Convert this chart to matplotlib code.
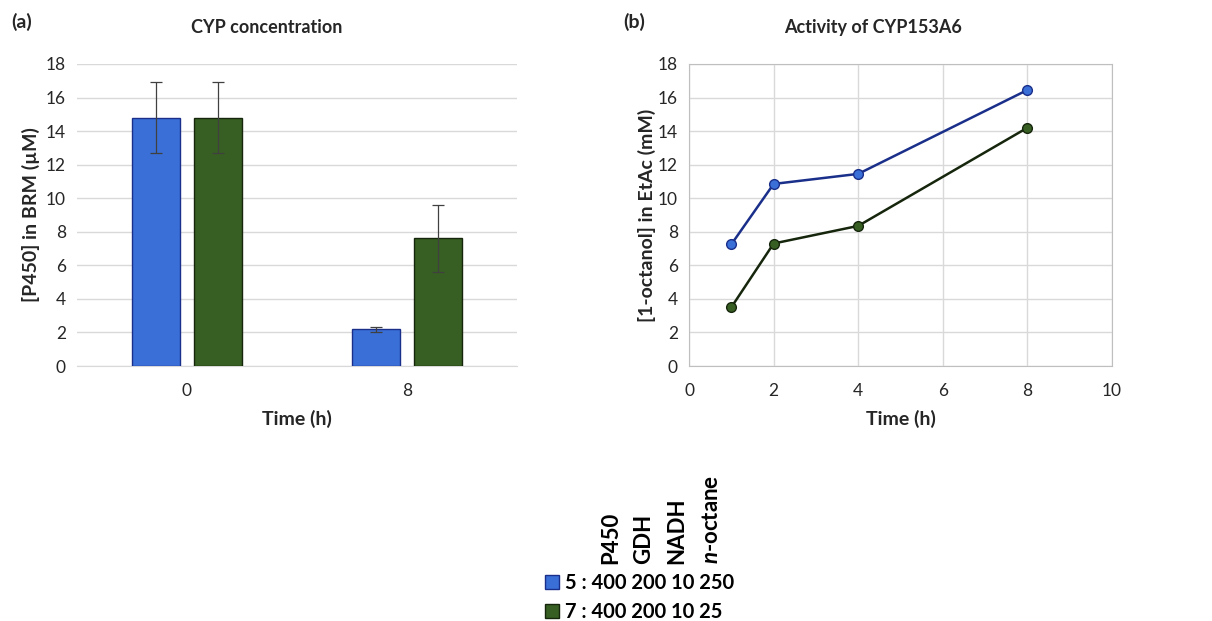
import numpy as np
import matplotlib
matplotlib.use("Agg")
import matplotlib.pyplot as plt

plt.rcParams["font.family"] = ["Lato", "DejaVu Sans"]
plt.rcParams["mathtext.fontset"] = "custom"
plt.rcParams["mathtext.it"] = "Lato:italic:bold"
plt.rcParams["mathtext.rm"] = "Lato:bold"

# --- data -------------------------------------------------------------
bar_times = ["0", "8"]
conc_a = [14.8, 2.2]          # 5 : 400 200 10 250
conc_a_err = [2.1, 0.15]
conc_b = [14.8, 7.6]          # 7 : 400 200 10 25
conc_b_err = [2.1, 2.0]

act_times = [1, 2, 4, 8]
act_a = [7.25, 10.85, 11.45, 16.45]
act_b = [3.5, 7.3, 8.35, 14.2]

series_labels = ["5 : 400 200 10 250", "7 : 400 200 10 25"]
header_labels = ["P450", "GDH", "NADH", r"$\it{n}$-octane"]

BLUE, BLUE_EDGE = "#3A6FD8", "#1A2F8A"
GREEN, GREEN_EDGE = "#375F23", "#16260C"
GRID = "#D9D9D9"
TXT = "#262626"

fig = plt.figure(figsize=(12.12, 6.21), dpi=100)

# --- (a) bars ---------------------------------------------------------
ax1 = fig.add_axes([0.0635, 0.4106, 0.3631, 0.4864])
x = np.arange(len(bar_times))
w, off = 0.22, 0.14
ek = dict(ecolor="#404040", elinewidth=0.9, capsize=4, capthick=0.9)
b1 = ax1.bar(x - off, conc_a, w, yerr=conc_a_err, color=BLUE,
             edgecolor=BLUE_EDGE, linewidth=1.0, error_kw=ek, zorder=3)
b2 = ax1.bar(x + off, conc_b, w, yerr=conc_b_err, color=GREEN,
             edgecolor=GREEN_EDGE, linewidth=1.0, error_kw=ek, zorder=3)
ax1.set_xlim(-0.5, 1.5)
ax1.set_ylim(0, 18)
ax1.set_yticks(range(0, 19, 2))
ax1.set_xticks(x, bar_times)
ax1.yaxis.grid(True, color=GRID, lw=1.0, zorder=0)
for s in ["top", "right", "left"]:
    ax1.spines[s].set_visible(False)
ax1.spines["bottom"].set_color(GRID)
ax1.tick_params(length=0, labelsize=12.5, labelcolor=TXT, pad=8)
ax1.tick_params(axis="x", pad=12)
ax1.set_xlabel("Time (h)", fontsize=14, fontweight="bold", color=TXT, labelpad=8)
ax1.set_ylabel("[P450] in BRM (\u00b5M)", fontsize=14, fontweight="bold",
               color=TXT, labelpad=4)
ax1.set_title("CYP concentration", fontsize=13, fontweight="bold", color=TXT,
              pad=22, x=0.43)

# --- (b) lines --------------------------------------------------------
ax2 = fig.add_axes([0.5685, 0.4106, 0.349, 0.4864])
ax2.plot(act_times, act_a, color=BLUE_EDGE, lw=1.8, marker="o", ms=7,
         mfc=BLUE, mec=BLUE_EDGE, mew=1.0, zorder=3)
ax2.plot(act_times, act_b, color=GREEN_EDGE, lw=1.8, marker="o", ms=7,
         mfc=GREEN, mec=GREEN_EDGE, mew=1.0, zorder=3)
ax2.set_xlim(0, 10)
ax2.set_ylim(0, 18)
ax2.set_xticks(range(0, 11, 2))
ax2.set_yticks(range(0, 19, 2))
ax2.grid(True, color=GRID, lw=1.0, zorder=0)
for s in ax2.spines.values():
    s.set_color("#BFBFBF")
ax2.tick_params(length=0, labelsize=12.5, labelcolor=TXT, pad=8)
ax2.tick_params(axis="x", pad=12)
ax2.set_xlabel("Time (h)", fontsize=14, fontweight="bold", color=TXT, labelpad=8)
ax2.set_ylabel("[1-octanol] in EtAc (mM)", fontsize=14, fontweight="bold",
               color=TXT, labelpad=1)
ax2.set_title("Activity of CYP153A6", fontsize=13, fontweight="bold", color=TXT,
              pad=22, x=0.435)

# panel letters
fig.text(0.009, 0.965, "(a)", fontsize=14, fontweight="bold", color=TXT, va="center")
fig.text(0.514, 0.965, "(b)", fontsize=14, fontweight="bold", color=TXT, va="center")

# --- legend with rotated header --------------------------------------
fig.legend([b1, b2], series_labels, loc="upper left",
           bbox_to_anchor=(0.441, 0.093), frameon=False,
           prop=dict(size=14.5, weight="bold"), handlelength=0.7, handleheight=0.7,
           handletextpad=0.3, labelspacing=0.45, borderpad=0, labelcolor="black")
for lab, xp in zip(header_labels, [611, 644, 677, 712]):
    fig.text(xp / 1212, 1 - 564 / 621, lab, rotation=90, ha="center", va="bottom",
             fontsize=16, fontweight="bold", color="black")

fig.savefig("out.png", dpi=100)
